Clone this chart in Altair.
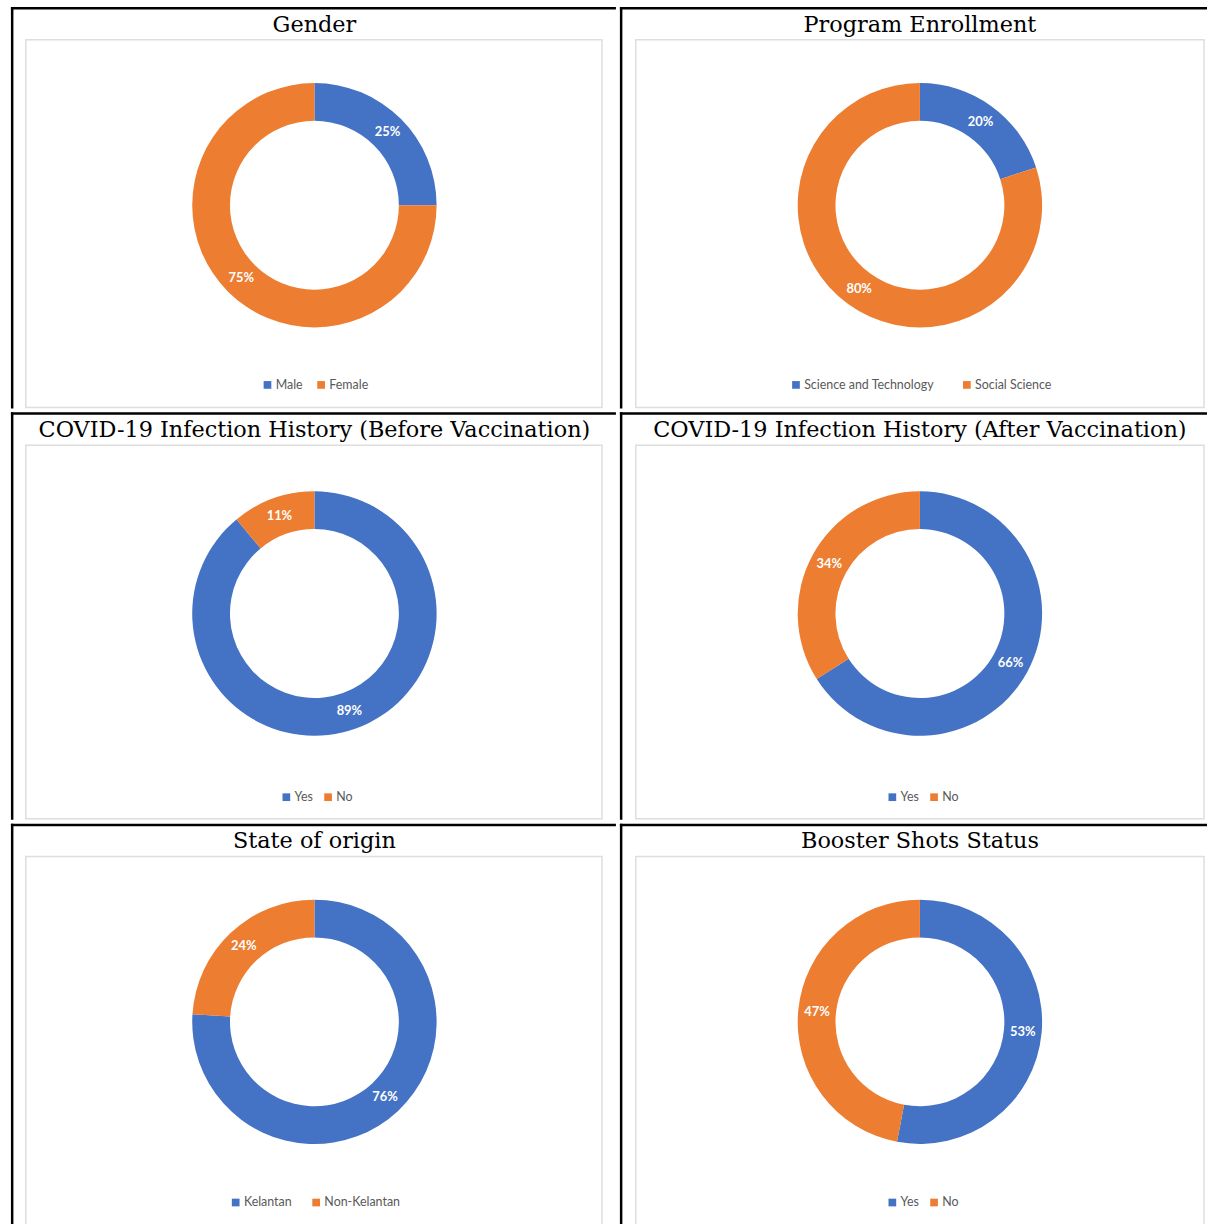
import altair as alt
import pandas as pd

titles = [
    "Gender",
    "Program Enrollment",
    "COVID-19 Infection History (Before Vaccination)",
    "COVID-19 Infection History (After Vaccination)",
    "State of origin",
    "Booster Shots Status",
]
categories = [
    ["Male", "Female"],
    ["Science and Technology", "Social Science"],
    ["Yes", "No"],
    ["Yes", "No"],
    ["Kelantan", "Non-Kelantan"],
    ["Yes", "No"],
]
values = [
    [25, 75],
    [20, 80],
    [89, 11],
    [66, 34],
    [76, 24],
    [53, 47],
]

BLUE = "#4472C4"
ORANGE = "#ED7D31"

col_widths = [609, 591]
row_heights = [404, 410, 410]
center_x = [305.5, 302]
center_y = [199.5, 202.5, 199.5]
box_x = [(15, 595), (16, 588)]
box_y = [(33, 403), (33, 409), (33, 408)]
legend_x = [252, 171, 271, 268, 220, 268]
legend_y = [374, 381, 375]
legend_pad = [12, 26, 9, 9, 18, 9]
LW = 2.5

dummy = alt.Data(values=[{"a": 1}])


def cell(i):
    r, c = divmod(i, 2)
    w, h = col_widths[c], row_heights[r]
    cx, cy = center_x[c], center_y[r]
    df = pd.DataFrame({
        "category": categories[i],
        "value": values[i],
        "label": [f"{v}%" for v in values[i]],
        "idx": list(range(len(values[i]))),
    })
    left = alt.Chart(dummy).mark_rule(color="black", strokeWidth=LW).encode(
        x=alt.value(LW / 2), y=alt.value(0), y2=alt.value(h))
    top = alt.Chart(dummy).mark_rule(color="black", strokeWidth=LW).encode(
        x=alt.value(0), x2=alt.value(w), y=alt.value(LW / 2))
    box = alt.Chart(dummy).mark_rect(fill="white", stroke="#dedede", strokeWidth=1.5).encode(
        x=alt.value(box_x[c][0]), x2=alt.value(box_x[c][1]),
        y=alt.value(box_y[r][0]), y2=alt.value(box_y[r][1]))
    title = alt.Chart(dummy).mark_text(
        text=titles[i], font="DejaVu Serif", fontSize=22.5, color="black",
        align="center", baseline="middle").encode(
        x=alt.value(cx), y=alt.value(18))
    base = alt.Chart(df).encode(
        theta=alt.Theta("value:Q", stack=True),
        order=alt.Order("idx:Q"),
        x=alt.value(cx), y=alt.value(cy),
    )
    arc = base.mark_arc(radius=123, radius2=85).encode(
        color=alt.Color(
            "category:N",
            sort=categories[i],
            scale=alt.Scale(domain=categories[i], range=[BLUE, ORANGE]),
            legend=alt.Legend(
                orient="none", legendX=legend_x[i], legendY=legend_y[r],
                direction="horizontal", title=None, symbolType="square",
                symbolSize=60, symbolStrokeWidth=0, labelFont="Lato",
                labelFontSize=12.5, labelColor="#595959",
                columnPadding=legend_pad[i], labelOffset=2,
            ),
        )
    )
    text = base.mark_text(
        radius=104, font="Lato", fontSize=13, fontWeight="bold", color="white"
    ).encode(text="label:N")
    return alt.layer(left, top, box, title, arc, text).properties(width=w, height=h)


rows = []
for r in range(3):
    rows.append(
        alt.hconcat(cell(2 * r), cell(2 * r + 1), spacing=0)
        .resolve_scale(color="independent", theta="independent")
    )

chart = (
    alt.vconcat(*rows, spacing=0)
    .resolve_scale(color="independent", theta="independent")
    .properties(padding={"left": 9, "top": 1, "right": 0, "bottom": 0})
    .configure_view(stroke=None)
)

chart.save("out.html", embed_options={"renderer": "svg", "actions": False})
